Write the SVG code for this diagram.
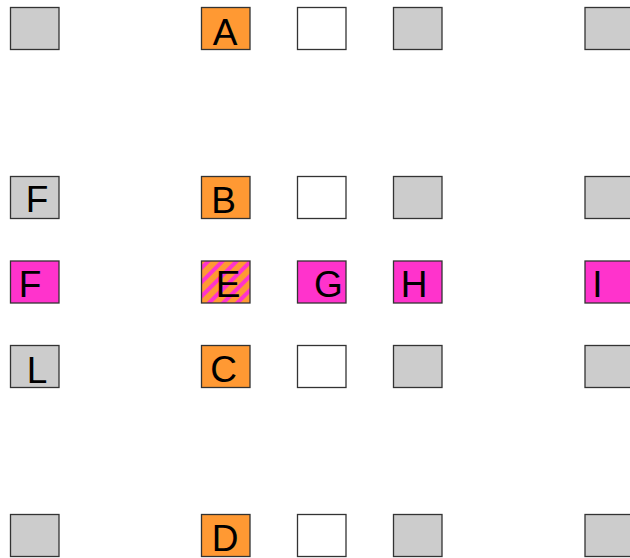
<svg xmlns="http://www.w3.org/2000/svg" width="630" height="558" viewBox="0 0 630 558">
<defs>
<pattern id="stripes" patternUnits="userSpaceOnUse" width="10" height="10" patternTransform="rotate(45)">
<rect x="0" y="0" width="10" height="10" fill="#ff9933"/>
<rect x="0" y="0" width="4" height="10" fill="#ff33cc"/>
</pattern>
</defs>
<style>
.b{stroke:#333;stroke-width:1.3}
.g{fill:#cccccc}
.w{fill:#ffffff}
.o{fill:#ff9933}
.m{fill:#ff33cc}
.s{fill:url(#stripes)}
text{font-family:"Liberation Sans",Arial,sans-serif;font-size:37px;fill:#000;text-anchor:middle}
</style>
<rect width="630" height="558" fill="#fff"/>
<g id="connectors"/>
<!-- row 1 -->
<g id="r1c1"><rect class="b g" x="10.5" y="7.5" width="48.5" height="42"/></g>
<g id="A"><rect class="b o" x="201.5" y="7.5" width="48.5" height="42"/><text x="225" y="44.5">A</text></g>
<g id="r1c3"><rect class="b w" x="297.5" y="7.5" width="48.5" height="42"/></g>
<g id="r1c4"><rect class="b g" x="393.5" y="7.5" width="48.5" height="42"/></g>
<g id="r1c5"><rect class="b g" x="585" y="7.5" width="48.5" height="42"/></g>
<!-- row 2 -->
<g id="F1"><rect class="b g" x="10.5" y="176.5" width="48.5" height="42"/><text x="37" y="212">F</text></g>
<g id="B"><rect class="b o" x="201.5" y="176.5" width="48.5" height="42"/><text x="223.5" y="212.5">B</text></g>
<g id="r2c3"><rect class="b w" x="297.5" y="176.5" width="48.5" height="42"/></g>
<g id="r2c4"><rect class="b g" x="393.5" y="176.5" width="48.5" height="42"/></g>
<g id="r2c5"><rect class="b g" x="585" y="176.5" width="48.5" height="42"/></g>
<!-- row 3 -->
<g id="F2"><rect class="b m" x="10.5" y="261" width="48.5" height="42"/><text x="30" y="297">F</text></g>
<g id="E"><rect class="b s" x="201.5" y="261" width="48.5" height="42"/><text x="228" y="297">E</text></g>
<g id="G"><rect class="b m" x="297.5" y="261" width="48.5" height="42"/><text x="328.5" y="297">G</text></g>
<g id="H"><rect class="b m" x="393.5" y="261" width="48.5" height="42"/><text x="414" y="297">H</text></g>
<g id="I"><rect class="b m" x="585" y="261" width="48.5" height="42"/><text x="597.5" y="297">I</text></g>
<!-- row 4 -->
<g id="L"><rect class="b g" x="10.5" y="345.5" width="48.5" height="42"/><text x="37" y="383">L</text></g>
<g id="C"><rect class="b o" x="201.5" y="345.5" width="48.5" height="42"/><text x="223.5" y="382">C</text></g>
<g id="r4c3"><rect class="b w" x="297.5" y="345.5" width="48.5" height="42"/></g>
<g id="r4c4"><rect class="b g" x="393.5" y="345.5" width="48.5" height="42"/></g>
<g id="r4c5"><rect class="b g" x="585" y="345.5" width="48.5" height="42"/></g>
<!-- row 5 -->
<g id="r5c1"><rect class="b g" x="10.5" y="514.5" width="48.5" height="42"/></g>
<g id="D"><rect class="b o" x="201.5" y="514.5" width="48.5" height="42"/><text x="225" y="551">D</text></g>
<g id="r5c3"><rect class="b w" x="297.5" y="514.5" width="48.5" height="42"/></g>
<g id="r5c4"><rect class="b g" x="393.5" y="514.5" width="48.5" height="42"/></g>
<g id="r5c5"><rect class="b g" x="585" y="514.5" width="48.5" height="42"/></g>
</svg>
